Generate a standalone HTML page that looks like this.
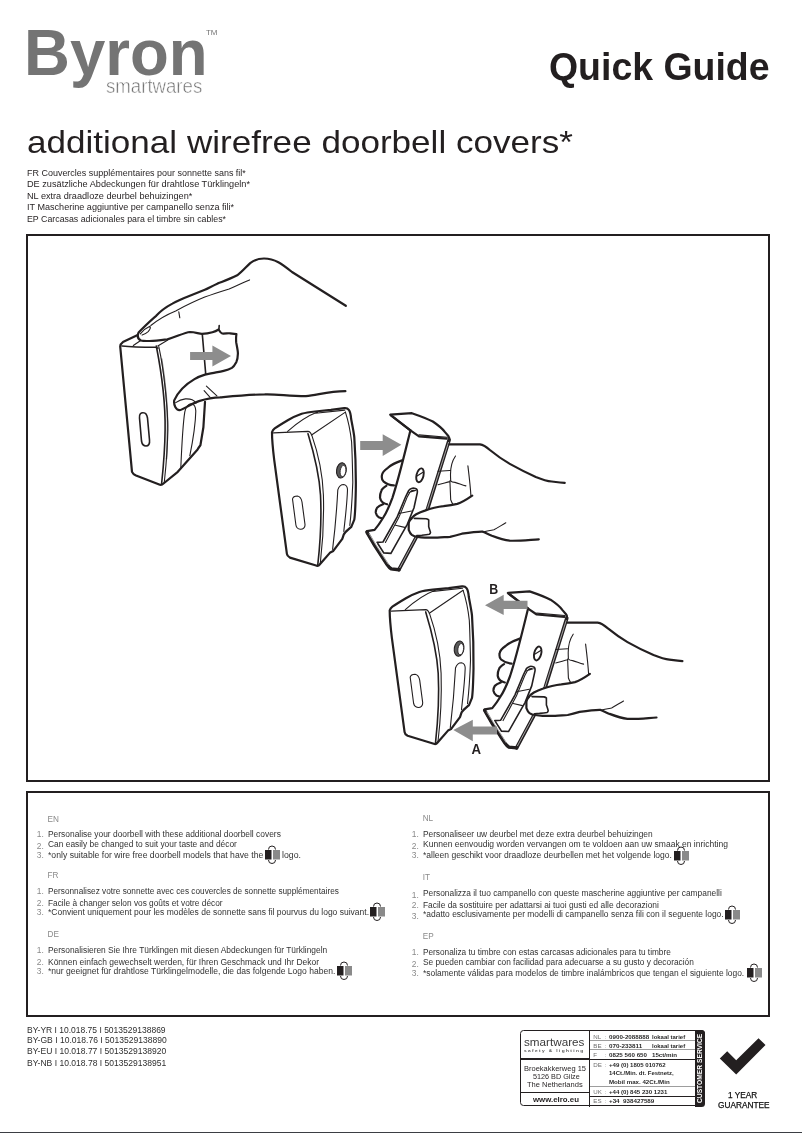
<!DOCTYPE html>
<html><head><meta charset="utf-8"><style>
html,body{margin:0;padding:0;background:#fff;}
body{width:802px;height:1133px;position:relative;overflow:hidden;font-family:"Liberation Sans", sans-serif;-webkit-font-smoothing:antialiased;}
#wrap{position:absolute;left:0;top:0;width:802px;height:1133px;will-change:transform;}
.t{position:absolute;white-space:nowrap;line-height:1;}
</style></head><body><div id="wrap">
<div class="t" style="left:24.00px;top:21.30px;font-size:64.5px;color:#747474;font-weight:bold;transform:scaleX(0.985);transform-origin:0 0;">Byron</div>
<div class="t" style="left:105.80px;top:76.59px;font-size:19.5px;color:#737373;font-weight:normal;transform:scaleX(0.955);transform-origin:0 0;-webkit-text-stroke:0.5px #fff;paint-order:fill;">smartwares</div>
<div class="t" style="left:205.50px;top:29.07px;font-size:7.6px;color:#747474;font-weight:normal;transform:scaleX(1.05);transform-origin:0 0;">TM</div>
<div class="t" style="left:548.50px;top:48.33px;font-size:38px;color:#231f20;font-weight:bold;transform:scaleX(0.985);transform-origin:0 0;">Quick Guide</div>
<div class="t" style="left:26.50px;top:125.81px;font-size:32px;color:#231f20;font-weight:normal;transform:scaleX(1.096);transform-origin:0 0;">additional wirefree doorbell covers*</div>
<div class="t" style="left:26.80px;top:168.52px;font-size:8.6px;color:#231f20;font-weight:normal;transform:scaleX(1.0436);transform-origin:0 0;">FR Couvercles supplémentaires pour sonnette sans fil*</div>
<div class="t" style="left:26.80px;top:180.22px;font-size:8.6px;color:#231f20;font-weight:normal;transform:scaleX(1.0667);transform-origin:0 0;">DE zusätzliche Abdeckungen für drahtlose Türklingeln*</div>
<div class="t" style="left:26.80px;top:191.62px;font-size:8.6px;color:#231f20;font-weight:normal;transform:scaleX(1.0633);transform-origin:0 0;">NL extra draadloze deurbel behuizingen*</div>
<div class="t" style="left:26.80px;top:203.22px;font-size:8.6px;color:#231f20;font-weight:normal;transform:scaleX(1.0559);transform-origin:0 0;">IT Mascherine aggiuntive per campanello senza fili*</div>
<div class="t" style="left:26.80px;top:214.52px;font-size:8.6px;color:#231f20;font-weight:normal;transform:scaleX(1.0247);transform-origin:0 0;">EP Carcasas adicionales para el timbre sin cables*</div>
<div style="position:absolute;left:26px;top:234px;width:740px;height:544px;border:2px solid #231f20;"></div>
<div style="position:absolute;left:26px;top:791px;width:740px;height:222px;border:2px solid #231f20;"></div>
<div style="position:absolute;left:0;top:1132px;width:802px;height:1px;background:#3b3e43;"></div>
<div class="t" style="left:47.60px;top:815.56px;font-size:8.2px;color:#8a8a8a;font-weight:normal;">EN</div>
<div class="t" style="left:36.80px;top:830.15px;font-size:8.45px;color:#8a8a8a;font-weight:normal;">1.</div>
<div class="t" style="left:47.60px;top:829.95px;font-size:8.45px;color:#333333;font-weight:normal;transform:scaleX(0.9969);transform-origin:0 0;">Personalise your doorbell with these additional doorbell covers</div>
<div class="t" style="left:36.80px;top:841.85px;font-size:8.45px;color:#8a8a8a;font-weight:normal;">2.</div>
<div class="t" style="left:47.60px;top:839.95px;font-size:8.45px;color:#333333;font-weight:normal;transform:scaleX(0.9945);transform-origin:0 0;">Can easily be changed to suit your taste and décor</div>
<div class="t" style="left:36.80px;top:851.05px;font-size:8.45px;color:#8a8a8a;font-weight:normal;">3.</div>
<div class="t" style="left:47.60px;top:851.05px;font-size:8.45px;color:#333333;font-weight:normal;transform:scaleX(1.0246);transform-origin:0 0;">*only suitable for wire free doorbell models that have the</div>
<div class="t" style="left:281.50px;top:851.05px;font-size:8.45px;color:#333333;font-weight:normal;transform:scaleX(1.0369);transform-origin:0 0;">logo.</div>
<div class="t" style="left:47.60px;top:872.26px;font-size:8.2px;color:#8a8a8a;font-weight:normal;">FR</div>
<div class="t" style="left:36.80px;top:887.05px;font-size:8.45px;color:#8a8a8a;font-weight:normal;">1.</div>
<div class="t" style="left:47.60px;top:886.95px;font-size:8.45px;color:#333333;font-weight:normal;transform:scaleX(0.9766);transform-origin:0 0;">Personnalisez votre sonnette avec ces couvercles de sonnette supplémentaires</div>
<div class="t" style="left:36.80px;top:898.85px;font-size:8.45px;color:#8a8a8a;font-weight:normal;">2.</div>
<div class="t" style="left:47.60px;top:898.85px;font-size:8.45px;color:#333333;font-weight:normal;transform:scaleX(0.9845);transform-origin:0 0;">Facile à changer selon vos goûts et votre décor</div>
<div class="t" style="left:36.80px;top:907.95px;font-size:8.45px;color:#8a8a8a;font-weight:normal;">3.</div>
<div class="t" style="left:47.60px;top:908.05px;font-size:8.45px;color:#333333;font-weight:normal;transform:scaleX(1.008);transform-origin:0 0;">*Convient uniquement pour les modèles de sonnette sans fil pourvus du logo suivant.</div>
<div class="t" style="left:47.60px;top:931.26px;font-size:8.2px;color:#8a8a8a;font-weight:normal;">DE</div>
<div class="t" style="left:36.80px;top:945.85px;font-size:8.45px;color:#8a8a8a;font-weight:normal;">1.</div>
<div class="t" style="left:47.60px;top:945.85px;font-size:8.45px;color:#333333;font-weight:normal;transform:scaleX(0.9932);transform-origin:0 0;">Personalisieren Sie Ihre Türklingen mit diesen Abdeckungen für Türklingeln</div>
<div class="t" style="left:36.80px;top:957.75px;font-size:8.45px;color:#8a8a8a;font-weight:normal;">2.</div>
<div class="t" style="left:47.60px;top:957.85px;font-size:8.45px;color:#333333;font-weight:normal;transform:scaleX(1.0049);transform-origin:0 0;">Können einfach gewechselt werden, für Ihren Geschmack und Ihr Dekor</div>
<div class="t" style="left:36.80px;top:966.85px;font-size:8.45px;color:#8a8a8a;font-weight:normal;">3.</div>
<div class="t" style="left:47.60px;top:966.95px;font-size:8.45px;color:#333333;font-weight:normal;transform:scaleX(1.0131);transform-origin:0 0;">*nur geeignet für drahtlose Türklingelmodelle, die das folgende Logo haben.</div>
<div class="t" style="left:422.70px;top:815.36px;font-size:8.2px;color:#8a8a8a;font-weight:normal;">NL</div>
<div class="t" style="left:411.80px;top:830.25px;font-size:8.45px;color:#8a8a8a;font-weight:normal;">1.</div>
<div class="t" style="left:422.70px;top:830.15px;font-size:8.45px;color:#333333;font-weight:normal;transform:scaleX(0.9911);transform-origin:0 0;">Personaliseer uw deurbel met deze extra deurbel behuizingen</div>
<div class="t" style="left:411.80px;top:842.05px;font-size:8.45px;color:#8a8a8a;font-weight:normal;">2.</div>
<div class="t" style="left:422.70px;top:840.15px;font-size:8.45px;color:#333333;font-weight:normal;transform:scaleX(1.0095);transform-origin:0 0;">Kunnen eenvoudig worden vervangen om te voldoen aan uw smaak en inrichting</div>
<div class="t" style="left:411.80px;top:851.05px;font-size:8.45px;color:#8a8a8a;font-weight:normal;">3.</div>
<div class="t" style="left:422.70px;top:850.95px;font-size:8.45px;color:#333333;font-weight:normal;transform:scaleX(1.0089);transform-origin:0 0;">*alleen geschikt voor draadloze deurbellen met het volgende logo.</div>
<div class="t" style="left:422.70px;top:874.16px;font-size:8.2px;color:#8a8a8a;font-weight:normal;">IT</div>
<div class="t" style="left:411.80px;top:890.75px;font-size:8.45px;color:#8a8a8a;font-weight:normal;">1.</div>
<div class="t" style="left:422.70px;top:888.75px;font-size:8.45px;color:#333333;font-weight:normal;transform:scaleX(0.9906);transform-origin:0 0;">Personalizza il tuo campanello con queste mascherine aggiuntive per campanelli</div>
<div class="t" style="left:411.80px;top:900.95px;font-size:8.45px;color:#8a8a8a;font-weight:normal;">2.</div>
<div class="t" style="left:422.70px;top:900.65px;font-size:8.45px;color:#333333;font-weight:normal;transform:scaleX(0.9938);transform-origin:0 0;">Facile da sostituire per adattarsi ai tuoi gusti ed alle decorazioni</div>
<div class="t" style="left:411.80px;top:911.95px;font-size:8.45px;color:#8a8a8a;font-weight:normal;">3.</div>
<div class="t" style="left:422.70px;top:909.85px;font-size:8.45px;color:#333333;font-weight:normal;transform:scaleX(1.0016);transform-origin:0 0;">*adatto esclusivamente per modelli di campanello senza fili con il seguente logo.</div>
<div class="t" style="left:422.70px;top:933.16px;font-size:8.2px;color:#8a8a8a;font-weight:normal;">EP</div>
<div class="t" style="left:411.80px;top:947.85px;font-size:8.45px;color:#8a8a8a;font-weight:normal;">1.</div>
<div class="t" style="left:422.70px;top:947.85px;font-size:8.45px;color:#333333;font-weight:normal;transform:scaleX(0.9804);transform-origin:0 0;">Personaliza tu timbre con estas carcasas adicionales para tu timbre</div>
<div class="t" style="left:411.80px;top:959.55px;font-size:8.45px;color:#8a8a8a;font-weight:normal;">2.</div>
<div class="t" style="left:422.70px;top:957.85px;font-size:8.45px;color:#333333;font-weight:normal;transform:scaleX(0.9852);transform-origin:0 0;">Se pueden cambiar con facilidad para adecuarse a su gusto y decoración</div>
<div class="t" style="left:411.80px;top:968.65px;font-size:8.45px;color:#8a8a8a;font-weight:normal;">3.</div>
<div class="t" style="left:422.70px;top:968.55px;font-size:8.45px;color:#333333;font-weight:normal;transform:scaleX(0.9983);transform-origin:0 0;">*solamente válidas para modelos de timbre inalámbricos que tengan el siguiente logo.</div>
<svg style="position:absolute;left:263.5px;top:845.0px" width="18" height="20" viewBox="0 0 18 20"><rect x="1" y="5" width="6.5" height="9.5" fill="#231f20"/><rect x="9" y="5" width="7" height="9.5" fill="#8a8a8a"/><path d="M4.5 4.5 Q4.5 1 8 1 Q11.5 1 11.5 4.5" fill="none" stroke="#231f20" stroke-width="1"/><path d="M4.5 15 Q4.5 18.5 8 18.5 Q11.5 18.5 11.5 15" fill="none" stroke="#231f20" stroke-width="1"/></svg>
<svg style="position:absolute;left:369.3px;top:902.0px" width="18" height="20" viewBox="0 0 18 20"><rect x="1" y="5" width="6.5" height="9.5" fill="#231f20"/><rect x="9" y="5" width="7" height="9.5" fill="#8a8a8a"/><path d="M4.5 4.5 Q4.5 1 8 1 Q11.5 1 11.5 4.5" fill="none" stroke="#231f20" stroke-width="1"/><path d="M4.5 15 Q4.5 18.5 8 18.5 Q11.5 18.5 11.5 15" fill="none" stroke="#231f20" stroke-width="1"/></svg>
<svg style="position:absolute;left:335.8px;top:960.5px" width="18" height="20" viewBox="0 0 18 20"><rect x="1" y="5" width="6.5" height="9.5" fill="#231f20"/><rect x="9" y="5" width="7" height="9.5" fill="#8a8a8a"/><path d="M4.5 4.5 Q4.5 1 8 1 Q11.5 1 11.5 4.5" fill="none" stroke="#231f20" stroke-width="1"/><path d="M4.5 15 Q4.5 18.5 8 18.5 Q11.5 18.5 11.5 15" fill="none" stroke="#231f20" stroke-width="1"/></svg>
<svg style="position:absolute;left:672.9px;top:846.0px" width="18" height="20" viewBox="0 0 18 20"><rect x="1" y="5" width="6.5" height="9.5" fill="#231f20"/><rect x="9" y="5" width="7" height="9.5" fill="#8a8a8a"/><path d="M4.5 4.5 Q4.5 1 8 1 Q11.5 1 11.5 4.5" fill="none" stroke="#231f20" stroke-width="1"/><path d="M4.5 15 Q4.5 18.5 8 18.5 Q11.5 18.5 11.5 15" fill="none" stroke="#231f20" stroke-width="1"/></svg>
<svg style="position:absolute;left:724.1px;top:905.0px" width="18" height="20" viewBox="0 0 18 20"><rect x="1" y="5" width="6.5" height="9.5" fill="#231f20"/><rect x="9" y="5" width="7" height="9.5" fill="#8a8a8a"/><path d="M4.5 4.5 Q4.5 1 8 1 Q11.5 1 11.5 4.5" fill="none" stroke="#231f20" stroke-width="1"/><path d="M4.5 15 Q4.5 18.5 8 18.5 Q11.5 18.5 11.5 15" fill="none" stroke="#231f20" stroke-width="1"/></svg>
<svg style="position:absolute;left:745.8px;top:963.0px" width="18" height="20" viewBox="0 0 18 20"><rect x="1" y="5" width="6.5" height="9.5" fill="#231f20"/><rect x="9" y="5" width="7" height="9.5" fill="#8a8a8a"/><path d="M4.5 4.5 Q4.5 1 8 1 Q11.5 1 11.5 4.5" fill="none" stroke="#231f20" stroke-width="1"/><path d="M4.5 15 Q4.5 18.5 8 18.5 Q11.5 18.5 11.5 15" fill="none" stroke="#231f20" stroke-width="1"/></svg>
<div class="t" style="left:27.00px;top:1025.79px;font-size:8.4px;color:#2e2e2e;font-weight:normal;transform:scaleX(1.0145);transform-origin:0 0;">BY-YR I 10.018.75 I 5013529138869</div>
<div class="t" style="left:27.00px;top:1035.79px;font-size:8.4px;color:#2e2e2e;font-weight:normal;transform:scaleX(1.0198);transform-origin:0 0;">BY-GB I 10.018.76 I 5013529138890</div>
<div class="t" style="left:27.00px;top:1046.89px;font-size:8.4px;color:#2e2e2e;font-weight:normal;transform:scaleX(1.0189);transform-origin:0 0;">BY-EU I 10.018.77 I 5013529138920</div>
<div class="t" style="left:27.00px;top:1058.89px;font-size:8.4px;color:#2e2e2e;font-weight:normal;transform:scaleX(1.0196);transform-origin:0 0;">BY-NB I 10.018.78 I 5013529138951</div>
<svg style="position:absolute;left:0;top:0" width="802" height="1133"><polygon points="719.8,1058.5 727.2,1051.2 736.2,1060.2 758.5,1038.2 765.5,1045 736.2,1074.5" fill="#231f20"/></svg>
<div class="t" style="left:727.80px;top:1091.56px;font-size:8.2px;color:#111;-webkit-text-stroke:0.25px #111;font-weight:normal;transform:scaleX(1.0061);transform-origin:0 0;">1 YEAR</div>
<div class="t" style="left:717.80px;top:1101.56px;font-size:8.2px;color:#111;-webkit-text-stroke:0.25px #111;font-weight:normal;transform:scaleX(1.0131);transform-origin:0 0;">GUARANTEE</div>
<div style="position:absolute;left:519.6px;top:1029.9px;width:183px;height:74.6px;border:1.4px solid #231f20;border-radius:3.5px;"></div>
<div style="position:absolute;left:694.6px;top:1029.9px;width:10.4px;height:77px;background:#231f20;border-radius:0 3.5px 3.5px 0;"></div>
<div style="position:absolute;left:589.1px;top:1030.5px;width:1.4px;height:76px;background:#231f20;"></div>
<div style="position:absolute;left:520px;top:1058.4px;width:70px;height:1.4px;background:#231f20;"></div>
<div style="position:absolute;left:520px;top:1091.8px;width:70px;height:1.4px;background:#231f20;"></div>
<div style="position:absolute;left:590px;top:1040.3px;width:105px;height:1.1px;background:#9d9d9d;"></div>
<div style="position:absolute;left:590px;top:1048.9px;width:105px;height:1.1px;background:#9d9d9d;"></div>
<div style="position:absolute;left:590px;top:1058.5px;width:105px;height:1.2px;background:#231f20;"></div>
<div style="position:absolute;left:590px;top:1086.4px;width:105px;height:1.1px;background:#9d9d9d;"></div>
<div style="position:absolute;left:590px;top:1095.7px;width:105px;height:1.2px;background:#231f20;"></div>
<div class="t" style="left:593.30px;top:1033.55px;font-size:6.2px;color:#6e6e6e;font-weight:normal;">NL</div>

<div class="t" style="left:604.60px;top:1033.55px;font-size:6.2px;color:#8a8a8a;font-weight:normal;">:</div>

<div class="t" style="left:609.30px;top:1033.55px;font-size:6.2px;color:#2a2a2a;font-weight:bold;transform:scaleX(1.0051);transform-origin:0 0;">0900-2088888</div>

<div class="t" style="left:651.50px;top:1033.55px;font-size:6.2px;color:#2a2a2a;font-weight:bold;transform:scaleX(0.9634);transform-origin:0 0;">lokaal tarief</div>

<div class="t" style="left:593.30px;top:1042.65px;font-size:6.2px;color:#6e6e6e;font-weight:normal;">BE</div>

<div class="t" style="left:604.60px;top:1042.65px;font-size:6.2px;color:#8a8a8a;font-weight:normal;">:</div>

<div class="t" style="left:609.30px;top:1042.65px;font-size:6.2px;color:#2a2a2a;font-weight:bold;transform:scaleX(1.0135);transform-origin:0 0;">070-233811</div>

<div class="t" style="left:651.50px;top:1042.65px;font-size:6.2px;color:#2a2a2a;font-weight:bold;transform:scaleX(0.9634);transform-origin:0 0;">lokaal tarief</div>

<div class="t" style="left:593.30px;top:1051.85px;font-size:6.2px;color:#6e6e6e;font-weight:normal;">F</div>

<div class="t" style="left:604.60px;top:1051.85px;font-size:6.2px;color:#8a8a8a;font-weight:normal;">:</div>

<div class="t" style="left:609.30px;top:1051.85px;font-size:6.2px;color:#2a2a2a;font-weight:bold;transform:scaleX(1.0045);transform-origin:0 0;">0825 560 650</div>

<div class="t" style="left:652.30px;top:1051.85px;font-size:6.2px;color:#2a2a2a;font-weight:bold;transform:scaleX(0.9978);transform-origin:0 0;">15ct/min</div>

<div class="t" style="left:593.30px;top:1061.55px;font-size:6.2px;color:#6e6e6e;font-weight:normal;">DE</div>

<div class="t" style="left:604.60px;top:1061.55px;font-size:6.2px;color:#8a8a8a;font-weight:normal;">:</div>

<div class="t" style="left:609.30px;top:1061.55px;font-size:6.2px;color:#2a2a2a;font-weight:bold;transform:scaleX(0.9819);transform-origin:0 0;">+49 (0) 1805 010762</div>

<div class="t" style="left:609.30px;top:1070.45px;font-size:6.2px;color:#2a2a2a;font-weight:bold;transform:scaleX(0.9647);transform-origin:0 0;">14Ct./Min. dt. Festnetz,</div>

<div class="t" style="left:609.30px;top:1079.45px;font-size:6.2px;color:#2a2a2a;font-weight:bold;transform:scaleX(0.9915);transform-origin:0 0;">Mobil max. 42Ct./Min</div>

<div class="t" style="left:593.30px;top:1088.65px;font-size:6.2px;color:#6e6e6e;font-weight:normal;">UK</div>

<div class="t" style="left:604.60px;top:1088.65px;font-size:6.2px;color:#8a8a8a;font-weight:normal;">:</div>

<div class="t" style="left:609.30px;top:1088.65px;font-size:6.2px;color:#2a2a2a;font-weight:bold;transform:scaleX(0.982);transform-origin:0 0;">+44 (0) 845 230 1231</div>

<div class="t" style="left:593.30px;top:1098.05px;font-size:6.2px;color:#6e6e6e;font-weight:normal;">ES</div>

<div class="t" style="left:604.60px;top:1098.05px;font-size:6.2px;color:#8a8a8a;font-weight:normal;">:</div>

<div class="t" style="left:609.30px;top:1098.05px;font-size:6.2px;color:#2a2a2a;font-weight:bold;transform:scaleX(1.009);transform-origin:0 0;">+34 &nbsp;938427589</div>

<div class="t" style="left:524.30px;top:1037.32px;font-size:11.2px;color:#3a3a3a;font-weight:normal;transform:scaleX(1.0453);transform-origin:0 0;">smartwares</div>

<div class="t" style="left:524.30px;top:1049.82px;font-size:3.4px;color:#555;font-weight:bold;transform:scaleX(1.4269);transform-origin:0 0;">s a f e t y &nbsp; &amp; &nbsp; l i g h t i n g</div>

<div class="t" style="left:523.50px;top:1065.07px;font-size:7.6px;color:#231f20;font-weight:normal;transform:scaleX(0.985);transform-origin:0 0;">Broekakkerweg 15</div>

<div class="t" style="left:532.80px;top:1072.87px;font-size:7.6px;color:#231f20;font-weight:normal;transform:scaleX(0.953);transform-origin:0 0;">5126 BD Gilze</div>

<div class="t" style="left:527.30px;top:1081.47px;font-size:7.6px;color:#231f20;font-weight:normal;transform:scaleX(0.9913);transform-origin:0 0;">The Netherlands</div>

<div class="t" style="left:532.80px;top:1095.87px;font-size:7.6px;color:#231f20;font-weight:bold;transform:scaleX(1.0341);transform-origin:0 0;">www.elro.eu</div>

<div style="position:absolute;left:694.6px;top:1103.2px;transform:rotate(-90deg) scaleX(0.93);transform-origin:0 0;font-size:7.2px;font-weight:bold;color:#fff;line-height:10.4px;height:10.4px;white-space:nowrap;">CUSTOMER SERVICE</div>

<svg style="position:absolute;left:0;top:0" width="802" height="1133" viewBox="0 0 802 1133">
<defs>
<g id="scene2">
 <!-- box 2 -->
 <path class="m" d="M272,432.2 C272.5,430.5 273.5,429.3 274.7,428.4 C279,425.5 283.5,422.8 288.2,420 C293,417 297,415.5 301.7,413.8 C306,412.5 310,412 315.1,411.5 L330.9,409.9 L344.3,408.2 C346,408 348,408.8 348.8,409.9 C350,411.5 350.8,414.5 351.1,418.8 C352.5,426 354,434 354.3,437.4 C355.5,455 356,475 355.8,490 C355.5,505 355,515 354.3,519.7 L351.3,526.9 C348,530 345,532 343.8,534.4 L342.3,538.9 L333.3,550.9 L330.3,552.4 L319.9,564.3 C319,565.5 318,566 316.9,565.8 L289.9,557.6 C288,556.5 287,555 286.9,553.9 L274.2,459.9 C273,450 272,440 272,432.2 Z"/>
 <path class="d" d="M273.5,432.9 L307.9,431.4 C309.5,431.5 311,433 311.6,435.2"/>
 <path class="d2" d="M308,433.7 C313,450 319,470 320.5,495 C321.5,515 320,545 317.8,564.6"/>
 <path class="d" d="M311.7,434.9 C317,450 322.5,470 323.4,495 C324,515 322.5,545 320.3,563.3"/>
 <path class="d" d="M287.6,431.4 C296,424 306,416.5 317.4,412.1 M312.3,434.5 L345.4,412.1 M315.5,413.2 L344.8,410.1"/>
 <path class="d" d="M345.4,412.1 C348,420 350.5,432 351.6,442 C352.3,455 352.5,470 352.8,482.3 C352,505 351,515 349.8,525.4"/>
 <ellipse fill="#5a5a5a" stroke="#231f20" stroke-width="1.1" cx="341.4" cy="470.4" rx="4.8" ry="7.7" transform="rotate(8 341.4 470.4)"/>
 <ellipse fill="#fff" stroke="#231f20" stroke-width="0.8" cx="343" cy="471" rx="2.8" ry="5.7" transform="rotate(8 343 471)"/>
 <path class="d" d="M332.6,549.4 C335,530 337,505 337.8,489.8 C339,486 341,484.5 343.8,484.5 C346,485 347.5,487 347.5,489.8 C347,505 345,520 343.8,531.4"/>
 <path class="d" d="M292.5,499 C293,496.5 295,496 297.4,496 C300,496.5 301.5,499 302,502 L305,524.5 C305.2,527.5 303,529.5 300.4,529.3 C298,529 296.3,527.5 295.9,525 Z"/>
 <!-- cover piece -->
 <path fill="#fff" stroke="none" d="M390.2,414.7 L411.9,413.2 C420,416 428,419 432.8,421.5 C438,425 442,428 444.8,431.9 L449.3,438 L427.7,508.6 L416.1,537.6 L398.9,569.7 L391.3,568.9 L366.6,532 L374.6,529.9 C380,522 388,508 392.4,497.8 C399,478 406,448 410.4,430.4 Z"/>
 <path class="m" d="M410.4,430.4 L390.2,414.7 L411.9,413.2 C420,416 428,419 432.8,421.5 C438,425 442,428 444.8,431.9 L448.3,436 C449.5,437.5 449.5,438.5 449.1,440"/>
 <path class="m" d="M390.9,415.5 L410.4,430.4 L419,436.3 L446.7,438.7"/>
 <path class="d" d="M419,434.9 L447.3,437.3"/>
 <path class="m" d="M410.4,430.4 C406,448 399,478 392.4,497.8 C389,507 385,515 383,518 C380,523 377,527 374.6,529.9 L367,531.1 C366.5,531.3 366.4,531.8 366.6,532 L374.6,545.4 L387.1,564.7 C388.5,566.8 389.8,568.2 391.3,568.9 L398.9,569.7"/>
 <path fill="none" stroke="#231f20" stroke-width="3.6" stroke-linecap="round" d="M449.1,440 L427.7,508.6 L416.1,537.6 L398.9,569.7"/>
 <path fill="none" stroke="#fff" stroke-width="0.6" d="M448.6,442 L427.3,509 L415.8,537.8 L399.6,568"/>
 <path fill="none" stroke="#231f20" stroke-width="3.4" stroke-linecap="round" d="M367,532.3 L374.6,545.4 L387.1,564.7 C388.5,566.8 389.8,568.2 391.3,568.9 L398.9,569.7"/>
 <path fill="none" stroke="#fff" stroke-width="0.6" d="M369,533.5 L376,545 L388.5,564.5"/>
 <ellipse fill="none" stroke="#231f20" stroke-width="1.9" cx="420" cy="475.3" rx="3.5" ry="7.1" transform="rotate(14 420 475.3)"/>
 <path class="d" d="M416.6,476.3 L423,472.3"/>
 <path class="d2" d="M383,542 L377.1,542.4 M377.9,543.7 L383.8,552.9 L390.9,553.3 L400.6,536.2 L407.3,524.4 L414,507.7 L417.3,492.6 C417.6,490 416.5,488.8 415.6,488.6 C414,488 412.5,488 411.5,488.5 C410,489 409,490 408.6,490.6 L405.6,496.8 L397.2,516.9 L383,542"/>
 <path class="d" d="M385.4,542.4 L398.8,517.6 L407,497.6 L409.8,492.4 C410.8,491 412.5,490.2 414,490.4 M408.9,492.6 L415.6,490.5 M398.9,513.5 L411.5,511 M395.5,525.3 L404.7,527.4"/>
 <!-- hand 2 -->
 <path class="m" d="M449.3,444.4 L479.9,444.4 C484,445 487,447.5 489.9,450 C496,455 503,460 509.8,463.9 C518,468.5 527,473 535.8,476.9 C541,479 546,481 551.7,481.5 C556,482 560,482.5 564.7,482.9"/>
 <path class="d" d="M455.5,456 C452,461 450.5,468 450.5,474.4 C450.5,477 450.6,479 450.7,480.8 C451.5,481.8 453,482.2 455,482.4 C459,483.5 462,485 465.9,485.9 M467.9,465.9 C469,475 470.5,488 470.9,495.8 M438,471.3 L449.9,470.5 M438,484.8 C442,484 446,482.5 449.9,481.6 M449.9,480.8 C450.2,488 450.5,495 450.7,499.8 C451.5,502 452.3,503.5 453.1,504.6"/>
 <path fill="#fff" stroke="none" d="M472.2,495.7 C466,499.5 462,502 457.3,503.9 C452,505.5 448,506 443.6,506.2 C437,507 432,508 424.9,510.6 C421,511.5 419,513 416.2,514.3 C413,516 411.5,517.5 411.2,518.7 C409,521 408.7,523 408.7,523.7 L408.7,529.9 C409.5,532 410.5,534 411.8,534.9 C413.5,536 415.5,536.6 417.5,536.8 C420,537.3 422.5,537.6 424.9,537.7 L437.4,537.7 C442,537.5 446,537 450,536.8 C460,535 470,532.5 480,531.6 L482,496 Z"/>
 <path class="m" d="M411.2,518.7 C413,516.5 414.5,515.3 416.2,514.3 C419,512.8 421.5,511.7 424.9,510.6 C428,509.5 431,508.6 434.3,507.8 C437,507.2 440,506.6 443.6,506.2 C448,505.6 453,504.8 457.3,503.9 C462,502.5 466,500 472.2,495.7"/>
 <path class="m" d="M411.2,518.7 C409.5,520.5 408.7,522 408.7,523.7 L408.7,529.9 C409.5,532 410.5,534 411.8,534.9 C413.5,536 415.5,536.6 417.5,536.8 C420,537.3 422.5,537.6 424.9,537.7 L437.4,537.7 C442,537.5 446,537 450,536.8 C454,536 457,535.2 461.9,533.7 C470,532.5 477,531.5 482.9,531.7 C486,533 489,534.5 491.9,535.7 C498,538 504,540 509.8,540.7 C520,541 530,539.8 538.8,539.3"/>
 <path class="d2" d="M414.3,518.4 C418,518.5 422,518.6 426.2,518.7 C427.5,519 428.3,519.4 428.7,519.9 L428.7,526.8 C429.3,528.6 430,530.5 430.5,532.4 C430.4,533.4 429.9,534 429.3,534.3 C427,534.7 424,535 421.8,535.2 L416.8,535.5"/>
 <path class="d" d="M482.9,532.1 C487,531 490,530.5 493.9,529.8 C498,527.5 502,525 505.8,522.8"/>
 <path class="m" d="M402.1,460.4 C396,462.5 391,465 387.9,467.8 C384,470.5 382,473 381.9,475.3 C381.5,478 382,480 383.4,481.3 C386,483.5 389,485 393.9,485.4 M386.3,485.9 C383,488 381.5,490 381.3,490.9 C380.2,493 380,495.5 380,497.6 C380.5,500 381.5,501.8 383,502.6 C384.5,503.5 385.8,504 387.1,504.3 M383,504.3 C380,505.5 378,506.8 377.1,507.7 C376,509.5 375.6,511 375.8,512.7 C376.3,514.8 377.3,516.4 378.8,517.3 C379.7,517.8 380.5,518 381.3,518.1"/>
</g>
</defs>
<style>
.m{fill:none;stroke:#231f20;stroke-width:2.2;stroke-linejoin:round;stroke-linecap:round}
.d{fill:none;stroke:#231f20;stroke-width:1.1;stroke-linecap:round}
.d2{fill:none;stroke:#231f20;stroke-width:1.6;stroke-linecap:round}
</style>
<!-- arrows -->
<polygon fill="#8d8d8d" points="360.2,440.9 382.7,440.9 382.7,434.2 401.4,444.7 382.7,455.9 382.7,449.9 360.2,449.9"/>
<text x="489.2" y="593.8" font-family="Liberation Sans" font-weight="bold" font-size="14.8" fill="#231f20" transform="translate(489.2 0) scale(0.84 1) translate(-489.2 0)">B</text>
<text x="471.4" y="753.8" font-family="Liberation Sans" font-weight="bold" font-size="14.4" fill="#231f20" transform="translate(471.4 0) scale(0.92 1) translate(-471.4 0)">A</text>
<!-- scene 1 -->
<path class="m" d="M345.8,305.8 L292,272 C282,264 275,258.5 264,258.5 C257,258.5 253,261 250.2,263.1 C246,267 242,272 237.2,275.3 C230,279 224,281 217.8,283.4 C212,286 208,288.5 204.8,289.8 C198,292.5 193,294.5 188.6,296.3 C183,298.5 177,301 172.4,303.6 C166,307 160,311.5 156.2,315.8 C151,320 146,325 142,329 C140.5,330.5 139.5,331.5 138.6,332.5 C137,336 138,339 141,340.5 C146,342 155,340.6 167.4,339.4 C178,336 185,332.5 190,332 C195,332 199,333.8 202,333.8 C206,333.8 210,333 212.4,332.3 C215,331.5 217,330.5 218.6,329.5 C219.5,331 220.5,333 222.2,333.5 C225,333.7 228,333.1 230,333.3 L236.4,334.2 C236,337 236,340 236.2,342.4 C237,347 238,351 237.9,353.7 C237.8,357 237.3,360 236.4,361.9 C235,364.5 233.5,366.8 231.9,367.9 C229,369.5 226,370.3 223.7,370.9 C220,371.8 216,372.4 212.4,373.1 C209,373.7 207,374 205,374.6 C201,375.8 197.5,377.3 194.5,379.1 C186,384 178,392 174.2,400.4 C173.5,405 176,410 179.5,410.1 C183,410 190,404 198.9,401.1 C206,399 213,397.5 219.9,397.4 C235,396 250,394.5 264.7,394.4 C275,394 285,395.5 305.9,396.2 C318,395 328,391.5 345.4,391.2"/>
<path class="d" d="M150.8,325.5 C160,318 168,314 175.7,310.9 C185,306 195,301 204.8,297.1 C213,294 221,291.5 229.1,289 C236,286 242,283 249.6,279.9 M178.8,311.8 L179.8,317.8"/>
<path class="d2" d="M202.3,334.2 C203.5,348 204.8,362 205.7,373.9 M219.2,325.6 L218.9,329.5"/>
<path class="d" d="M140.3,333.8 C142,331.5 145,328.5 149.9,326.3 C151,327.5 150.8,328.5 148.2,331.6 C146,333.5 144,334.5 142.1,335.1"/>
<path class="d" d="M175.7,402.6 C178,401 182,399.3 185.4,398.9 C188,398.8 190.5,399 192.2,399.7 C194,400.5 195.5,402 195.9,403.4"/>
<path class="d" d="M206.4,386.2 L216.9,395.9 M204.1,390.7 L210.1,397.4"/>
<!-- box 1 -->
<path class="m" d="M137.7,335.1 L122.9,342.1 C121,343.5 120.2,345 120.2,346.4 L132,471.8 C132.5,473 134,474.5 136,475.5 L159.9,484.7 C161,485 162.5,484.5 163.5,483.5 L177.8,471.8 L197.4,449.8 C199,447 200.4,445.3 200.4,445.3 L203.4,427.3 L205,401.9"/>
<path class="d2" d="M122,346 C130,346.9 145,347.3 155.2,347.3 C156.5,347.5 157.5,348 157.8,348.2"/>
<path fill="none" stroke="#8a8a8a" stroke-width="1.6" d="M161.6,358.5 C165,380 167.6,410 167.6,425 C167.4,440 167,450 166.5,459.2"/>
<path class="d2" d="M156.3,346 C161,370 165.5,405 165.1,430 C164.8,455 162.5,475 161.6,483.7"/>
<path class="d" d="M158.8,346.6 C164,370 168,410 167.8,430 C167.5,455 165,475 164.2,483"/>
<path class="d" d="M133.3,345.5 L140.3,340.7 M157.8,346 L167.4,340.3"/>
<path class="d" d="M180.8,468 C182,440 183.5,420 184.8,411.9 C186,406 189,404 191.8,403.9 C194,404 195.8,407 195.8,411 C195.5,425 192,445 189.8,455.8"/>
<path class="d2" d="M139.5,418 C139,414 141,412.5 143.5,412.8 C146,413 147,415 147.5,418 L149.5,440 C150,444 148.5,446 146,446 C143.5,446 142,444 141.5,441 Z"/>
<polygon fill="#8d8d8d" points="190.1,352 212.4,352 212.4,345.5 231,356.1 212.4,366.4 212.4,359.9 190.1,359.9"/>
<!-- scenes 2 and 3 -->
<use href="#scene2"/>
<use href="#scene2" transform="translate(117.7,178.2)"/>
<polygon fill="#8d8d8d" points="527.5,600.7 503.7,600.7 503.7,594.7 485,605.2 503.7,614.9 503.7,608.9 527.5,608.9"/>
<polygon fill="#8d8d8d" points="497,726.4 472.8,726.4 472.8,719.7 453.3,730.1 472.8,741.3 472.8,734.6 497,734.6"/>
</svg>

</div></body></html>
